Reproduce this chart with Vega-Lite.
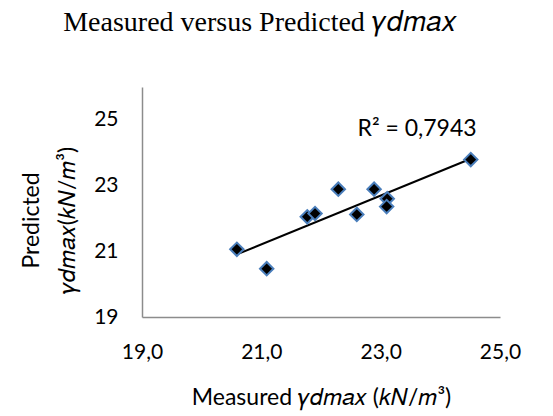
{
  "$schema": "https://vega.github.io/schema/vega-lite/v6.json",
  "width": 358,
  "height": 230,
  "autosize": {"type": "none"},
  "padding": {"left": 142, "top": 87, "right": 53, "bottom": 99},
  "background": "white",
  "title": {
    "text": "Measured versus Predicted 𝛾𝑑𝑚𝑎𝑥",
    "font": "Liberation Serif",
    "fontSize": 28,
    "fontWeight": "normal",
    "color": "black",
    "baseline": "alphabetic",
    "offset": 28,
    "dx": -61
  },
  "data": {
    "values": [
      {"measured": 20.59, "predicted": 21.06},
      {"measured": 21.09, "predicted": 20.47},
      {"measured": 21.77, "predicted": 22.05},
      {"measured": 21.90, "predicted": 22.15},
      {"measured": 22.29, "predicted": 22.89},
      {"measured": 22.60, "predicted": 22.12},
      {"measured": 22.89, "predicted": 22.89},
      {"measured": 23.11, "predicted": 22.60},
      {"measured": 23.10, "predicted": 22.36},
      {"measured": 24.51, "predicted": 23.79}
    ]
  },
  "layer": [
    {
      "transform": [{"regression": "predicted", "on": "measured"}],
      "mark": {"type": "line", "color": "black", "strokeWidth": 2},
      "encoding": {
        "x": {"field": "measured", "type": "quantitative"},
        "y": {"field": "predicted", "type": "quantitative"}
      }
    },
    {
      "mark": {"type": "point", "shape": "diamond", "filled": true, "fill": "black", "stroke": "#4A7EBB", "strokeWidth": 2, "size": 180, "opacity": 1},
      "encoding": {
        "x": {
          "field": "measured", "type": "quantitative",
          "scale": {"domain": [19, 25], "nice": false, "zero": false},
          "axis": {
            "values": [19, 21, 23, 25],
            "labelExpr": "replace(format(datum.value, '.1f'), '.', ',')",
            "labelFlush": false,
            "title": "Measured 𝛾𝑑𝑚𝑎𝑥 (𝑘𝑁/𝑚³)",
            "titleY": 87,
            "titleBaseline": "alphabetic"
          }
        },
        "y": {
          "field": "predicted", "type": "quantitative",
          "scale": {"domain": [19, 26], "nice": false, "zero": false},
          "axis": {
            "values": [19, 21, 23, 25],
            "format": "d",
            "labelFlush": false,
            "title": ["Predicted", "𝛾𝑑𝑚𝑎𝑥(𝑘𝑁/𝑚³)"],
            "titleX": -104,
            "titleY": 133,
            "titleAlign": "center",
            "titleBaseline": "alphabetic",
            "titleLineHeight": 36,
            "titleAngle": -90
          }
        }
      }
    },
    {
      "data": {"values": [{"label": "R² = 0,7943"}]},
      "mark": {"type": "text", "font": "Lato", "fontSize": 23, "fontWeight": "normal", "color": "black"},
      "encoding": {
        "text": {"field": "label"},
        "x": {"datum": 23.61},
        "y": {"datum": 24.72}
      }
    }
  ],
  "config": {
    "view": {"stroke": null},
    "axis": {
      "grid": false,
      "ticks": false,
      "domainColor": "#8c8c8c",
      "domainWidth": 1.5,
      "labelFont": "Lato",
      "labelFontSize": 21,
      "labelColor": "black",
      "labelPadding": 24,
      "titleFont": "Lato",
      "titleFontSize": 23,
      "titleFontWeight": "normal",
      "titleColor": "black"
    }
  }
}
